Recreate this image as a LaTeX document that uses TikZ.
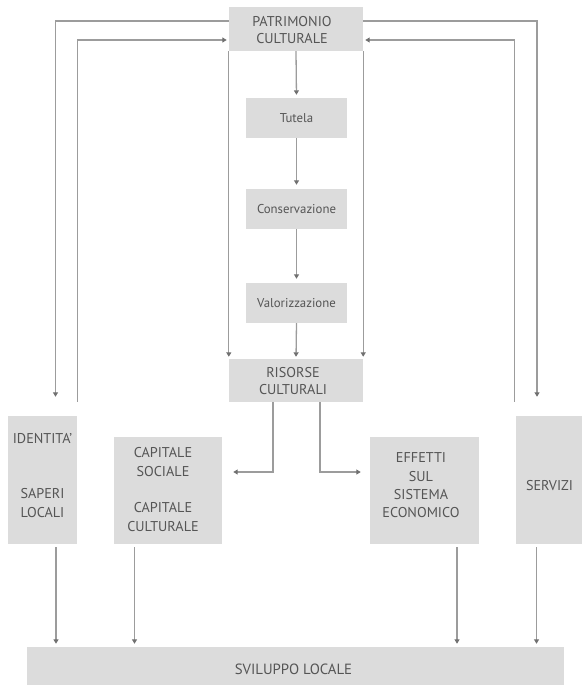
\documentclass[tikz,border=0pt]{standalone}
\usepackage{fontspec}
\setmainfont{PT Sans}
\usetikzlibrary{arrows.meta}
\definecolor{boxfill}{HTML}{DCDCDC}
\definecolor{linegray}{HTML}{9C9C9C}
\definecolor{tipgray}{HTML}{707070}
\definecolor{textgray}{HTML}{555555}
\tikzset{
  box/.style={fill=boxfill, draw=none, inner sep=0pt, text=textgray, align=center},
  bigtext/.style={font=\fontsize{14.2}{17.5}\selectfont},
  tallrows/.style={font=\fontsize{14.2}{18.4}\selectfont},
  smalltext/.style={font=\fontsize{12.8}{14}\selectfont},
  arr/.style={draw=linegray, line width=1.3pt, -{Triangle[length=4.5pt,width=5pt,color=tipgray]}},
  lbl/.style={text=textgray, align=center, inner sep=0pt}
}
\begin{document}
\begin{tikzpicture}[x=1pt,y=-1pt]
\useasboundingbox (0,0) rectangle (581,685);
% boxes
\node[box, minimum width=134pt, minimum height=44pt] (pat) at (296,29) {};
\node[lbl, bigtext] at (292,30) {PATRIMONIO\\CULTURALE};
\node[box, smalltext, minimum width=101pt, minimum height=40pt] (tut) at (296.5,118) {Tutela};
\node[box, smalltext, minimum width=101pt, minimum height=40pt] (con) at (296.5,209) {Conservazione};
\node[box, smalltext, minimum width=101pt, minimum height=40pt] (val) at (296.5,303) {Valorizzazione};
\node[box, minimum width=134pt, minimum height=43pt] (ris) at (296,380.5) {};
\node[lbl, bigtext] at (293,381) {RISORSE\\CULTURALI};
\node[box, minimum width=69pt, minimum height=128pt] (id) at (42.5,480) {};
\node[lbl, tallrows] at (42.5,475.5) {IDENTITA'\\\strut\\\strut\\SAPERI\\LOCALI};
\node[box, minimum width=108pt, minimum height=107pt] (cap) at (168,490.5) {};
\node[lbl, tallrows] at (163,489.5) {CAPITALE\\SOCIALE\\\strut\\CAPITALE\\CULTURALE};
\node[box, minimum width=109pt, minimum height=107pt] (eff) at (424.5,490.5) {};
\node[lbl, tallrows] at (421,485.5) {EFFETTI\\SUL\\SISTEMA\\ECONOMICO};
\node[box, minimum width=66pt, minimum height=128pt] (ser) at (549,480) {};
\node[lbl, bigtext] at (549.5,486) {SERVIZI};
\node[box, minimum width=537pt, minimum height=40pt] (sv) at (295.5,667) {};
\node[lbl, font=\fontsize{14.8}{16}\selectfont] at (293.5,669) {SVILUPPO LOCALE};
% central chain
\draw[arr, shorten >=3pt] (pat.south) -- (tut.north);
\draw[arr, shorten >=4pt] (tut.south) -- (con.north);
\draw[arr, shorten >=4pt] (con.south) -- (val.north);
\draw[arr, shorten >=2pt] (val.south) -- (ris.north);
\draw[arr, shorten >=2pt] (pat.south west) -- (ris.north west);
\draw[arr, shorten >=2pt] (pat.south east) -- (ris.north east);
% feedback loops
\draw[arr, shorten >=19pt] ([yshift=8pt]pat.west) -| ([xshift=13pt]id.north);
\draw[arr, shorten >=2pt] ([yshift=14pt]id.north east) |- ([yshift=-11pt]pat.west);
\draw[arr, shorten >=19pt] ([yshift=8pt]pat.east) -| ([xshift=-12pt]ser.north);
\draw[arr, shorten >=2pt] ([xshift=-1pt,yshift=14pt]ser.north west) |- ([yshift=-11pt]pat.east);
% risorse outputs
\draw[arr, shorten >=11pt] ([xshift=-23pt]ris.south) |- ([yshift=18.5pt]cap.east);
\draw[arr, shorten >=9pt] ([xshift=24pt]ris.south) |- ([yshift=18.5pt]eff.west);
% to sviluppo
\draw[arr, shorten <=3pt, shorten >=3pt] ([xshift=13.5pt]id.south) -- ([xshift=13.5pt]id.south |- sv.north);
\draw[arr, shorten <=3pt, shorten >=3pt] ([xshift=-33.5pt]cap.south) -- ([xshift=-33.5pt]cap.south |- sv.north);
\draw[arr, shorten <=3pt, shorten >=3pt] ([xshift=32.5pt]eff.south) -- ([xshift=32.5pt]eff.south |- sv.north);
\draw[arr, shorten <=3pt, shorten >=3pt] ([xshift=-12.5pt]ser.south) -- ([xshift=-12.5pt]ser.south |- sv.north);
\end{tikzpicture}
\end{document}
